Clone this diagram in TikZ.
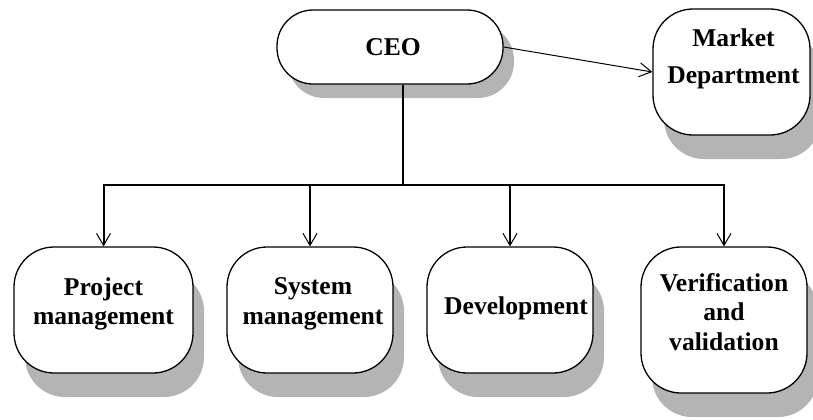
\documentclass[tikz,border=0pt]{standalone}
\usepackage{fontspec}
\setmainfont{Liberation Serif}
\usepackage{xcolor}
\definecolor{shadowgray}{RGB}{180,180,180}
\usepackage{tikz}
\usetikzlibrary{arrows.meta, shadows}

\tikzset{
  box/.style={draw, fill=white, line width=0.65pt, rounded corners=20pt,
    drop shadow={shadow xshift=5.5pt, shadow yshift=#1, fill=shadowgray, opacity=1}},
  box/.default=-12pt,
  lbl/.style={align=center, inner sep=0pt,
    font=\bfseries\fontsize{12.8pt}{14.7pt}\selectfont},
  link/.style={line width=1pt},
  tip/.style={-{Straight Barb[length=6pt,width=7pt,line width=0.5pt]}}
}

\begin{document}
\begin{tikzpicture}[x=0.5pt, y=-0.5pt]
  \useasboundingbox (0,0) rectangle (813,419);

  % boxes
  \node[box=-7pt, rounded corners=18pt, minimum width=113pt, minimum height=37pt] (ceo) at (390,47) {};
  \node[box, minimum width=78.5pt, minimum height=63pt] (mkt) at (731.5,72) {};
  \node[box, minimum width=89.5pt, minimum height=63pt] (pm) at (103.5,310) {};
  \node[box, minimum width=83pt, minimum height=63pt] (sm) at (310,310) {};
  \node[box, minimum width=83pt, minimum height=63pt] (dev) at (510,310) {};
  \node[box, minimum width=83pt, minimum height=73pt] (vv) at (724,320) {};

  % texts
  \node[lbl, xshift=1.5pt] (ceo-t) at (ceo) {CEO};
  \node[lbl, xshift=1pt, yshift=6.75pt] (mkt-t) at (mkt) {Market\\[3.8pt]Department};
  \node[lbl, yshift=3pt] (pm-t) at (pm) {Project\\management};
  \node[lbl, xshift=1.5pt, yshift=3pt] (sm-t) at (sm) {System\\management};
  \node[lbl, xshift=3pt, yshift=1pt] (dev-t) at (dev) {Development};
  \node[lbl, yshift=4pt] (vv-t) at (vv) {Verification\\and\\validation};

  % connectors
  \coordinate (fork) at (403,185);
  \draw[link] (ceo.south -| fork) -- (fork);
  \draw[link, line cap=rect] (fork -| pm.north) -- (fork -| vv.north);
  \draw[link, tip] (fork -| pm.north) -- (pm.north);
  \draw[link, tip] (fork -| sm.north) -- (sm.north);
  \draw[link, tip] (fork -| dev.north) -- (dev.north);
  \draw[link, tip] (fork -| vv.north) -- (vv.north);
  \draw[line width=0.5pt, tip] (ceo.east) -- (mkt.west);
\end{tikzpicture}
\end{document}
